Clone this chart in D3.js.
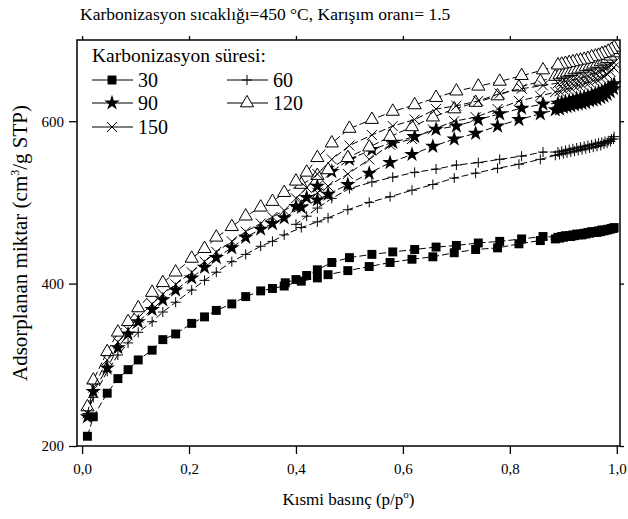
<!DOCTYPE html>
<html>
<head>
<meta charset="utf-8">
<script src="https://cdn.jsdelivr.net/npm/d3@7"></script>
<style>
  body { margin: 0; background: #fff; }
</style>
</head>
<body>
<div id="chart"></div>
<script>
// pressure points (p/p0) of the adsorption and desorption runs
const adsP = [0.010, 0.021, 0.047, 0.067, 0.086, 0.105, 0.131, 0.151, 0.175, 0.205, 0.229, 0.251, 0.28, 0.306, 0.334, 0.356, 0.378, 0.41, 0.44, 0.46, 0.497, 0.537, 0.576, 0.617, 0.656, 0.696, 0.736, 0.777, 0.817, 0.857, 0.885, 0.893, 0.90, 0.907, 0.914, 0.921, 0.928, 0.935, 0.942, 0.949, 0.956, 0.963, 0.97, 0.976, 0.982, 0.988, 0.994];
const desP = [0.995, 0.99, 0.984, 0.978, 0.972, 0.966, 0.96, 0.953, 0.946, 0.939, 0.932, 0.925, 0.918, 0.911, 0.904, 0.897, 0.89, 0.862, 0.822, 0.781, 0.741, 0.70, 0.662, 0.622, 0.581, 0.542, 0.50, 0.467, 0.44, 0.42, 0.40, 0.38];

// adsorbed amounts (cm3/g STP)
const ads30 = [212, 236, 265, 283, 294, 306, 318, 331, 338, 351, 359, 367, 375, 384, 391, 394, 397, 403, 407, 411, 416, 421, 426, 430, 433, 438, 442, 444, 449, 453, 455, 456, 457, 458, 458, 459, 460, 460, 461, 462, 463, 463, 464, 465, 466, 467, 468];
const des30 = [469, 468, 467, 466, 466, 465, 464, 464, 463, 462, 461, 461, 460, 459, 459, 458, 457, 458, 455, 452, 450, 447, 445, 442, 439, 436, 432, 426, 417, 410, 405, 401];

const ads60 = [240, 260, 292, 312, 327, 340, 353, 365, 377, 392, 404, 414, 427, 436, 446, 452, 460, 469, 476, 481, 491, 500, 507, 515, 522, 530, 536, 542, 547, 553, 558, 559, 560, 561, 562, 563, 564, 565, 566, 567, 568, 569, 570, 572, 573, 575, 578];
const des60 = [581, 578, 576, 575, 574, 573, 572, 571, 570, 569, 568, 567, 566, 565, 564, 563, 562, 562, 557, 553, 549, 546, 541, 537, 531, 525, 517, 505, 493, 483, 473];

const ads90 = [236, 267, 296, 321, 338, 353, 368, 380, 392, 407, 420, 432, 444, 457, 467, 474, 481, 494, 503, 510, 522, 536, 549, 559, 569, 578, 585, 594, 602, 609, 614, 615, 617, 618, 619, 620, 621, 622, 623, 625, 626, 627, 629, 631, 633, 636, 640];
const des90 = [646, 643, 641, 639, 637, 636, 634, 633, 631, 630, 629, 628, 626, 625, 624, 623, 622, 621, 616, 609, 602, 594, 590, 581, 574, 565, 553, 538, 520, 506, 495];

const ads120 = [248, 281, 316, 340, 353, 370, 389, 401, 414, 431, 443, 457, 470, 483, 494, 501, 512, 522, 533, 540, 555, 568, 581, 593, 605, 615, 623, 631, 642, 649, 655, 657, 658, 660, 661, 663, 664, 665, 667, 668, 670, 671, 673, 675, 677, 680, 684];
const des120 = [691, 688, 686, 684, 683, 681, 680, 679, 677, 676, 675, 674, 673, 672, 671, 670, 669, 663, 656, 649, 643, 637, 629, 620, 612, 602, 591, 573, 555, 537, 526];

const ads150 = [240, 272, 306, 328, 343, 358, 375, 387, 399, 414, 427, 439, 452, 464, 474, 482, 490, 501, 512, 520, 535, 553, 571, 578, 590, 600, 605, 615, 625, 631, 636, 637, 639, 640, 641, 643, 644, 645, 647, 648, 650, 651, 653, 655, 658, 661, 666];
const des150 = [672, 669, 667, 665, 663, 661, 659, 658, 656, 655, 653, 652, 651, 650, 649, 648, 647, 644, 640, 634, 625, 619, 615, 602, 594, 583, 570, 553, 535, 518, 505];

const seriesNames = ["30", "60", "90", "120", "150"];
const xTicks = [0, 0.2, 0.4, 0.6, 0.8, 1.0];
const yTicks = [200, 400, 600];

const series = [
  { name: "30", ads: ads30, des: des30, symbol: "square" },
  { name: "60", ads: ads60, des: des60, symbol: "plus" },
  { name: "90", ads: ads90, des: des90, symbol: "star" },
  { name: "120", ads: ads120, des: des120, symbol: "triangle" },
  { name: "150", ads: ads150, des: des150, symbol: "cross" }
];

const FONT = "'Liberation Serif', 'Times New Roman', Times, 'DejaVu Serif', serif";

const width = 628, height = 519;
const margin = { top: 40, right: 8, bottom: 73, left: 77 };
const innerW = width - margin.left - margin.right;
const innerH = height - margin.top - margin.bottom;

const svg = d3.select("#chart").append("svg")
  .attr("width", width)
  .attr("height", height)
  .attr("font-family", FONT);

const g = svg.append("g")
  .attr("transform", "translate(" + margin.left + "," + margin.top + ")");

const x = d3.scaleLinear().domain([-0.0095, 1.006]).range([0, innerW]);
const y = d3.scaleLinear().domain([200, 700]).range([innerH, 0]);

const fmt = d => d3.format(".1f")(d).replace(".", ",");

// axes
const xAxis = g.append("g")
  .attr("transform", "translate(0," + innerH + ")")
  .call(d3.axisBottom(x).tickValues(xTicks).tickFormat(fmt).tickSize(8).tickSizeOuter(0));
const yAxis = g.append("g")
  .call(d3.axisLeft(y).tickValues(yTicks).tickFormat(d3.format("d")).tickSize(8).tickSizeOuter(0));
const xTop = g.append("g")
  .call(d3.axisTop(x).tickValues(xTicks).tickFormat("").tickSize(4).tickSizeOuter(0));
const yRight = g.append("g")
  .attr("transform", "translate(" + innerW + ",0)")
  .call(d3.axisRight(y).tickValues(yTicks).tickFormat("").tickSize(4).tickSizeOuter(0));

[xAxis, yAxis, xTop, yRight].forEach(a => {
  a.attr("font-family", FONT);
  a.select(".domain").remove();
  a.selectAll("line").attr("stroke", "#000").attr("stroke-width", 1.3);
  a.selectAll("text")
    .style("font-family", FONT)
    .style("font-size", "15px")
    .attr("fill", "#000");
});
xAxis.selectAll("text").attr("dy", "1.1em");
yAxis.selectAll("text").attr("x", -13);

// frame
g.append("rect")
  .attr("width", innerW)
  .attr("height", innerH)
  .attr("fill", "none")
  .attr("stroke", "#000")
  .attr("stroke-width", 1.5);

// marker shapes
function markerPath(type) {
  if (type === "square") return d3.symbol(d3.symbolSquare, 80)();
  if (type === "star") return d3.symbol(d3.symbolStar, 75)();
  if (type === "triangle") return d3.symbol(d3.symbolTriangle, 75)();
  if (type === "plus") return "M-5,0H5M0,-5V5";
  return "M-5,-5L5,5M-5,5L5,-5";
}
function styleMarker(sel, type) {
  if (type === "square" || type === "star") {
    sel.attr("fill", "#000").attr("stroke", "none");
  } else if (type === "triangle") {
    sel.attr("fill", "#fff").attr("stroke", "#000").attr("stroke-width", 1);
  } else {
    sel.attr("fill", "none").attr("stroke", "#000").attr("stroke-width", 1);
  }
}

const line = d3.line().x(d => x(d[0])).y(d => y(d[1]));

const plot = g.append("g");
series.forEach(s => {
  const adsPts = s.ads.map((v, i) => [adsP[i], v]);
  const desPts = s.des.map((v, i) => [desP[i], v]);
  [adsPts, desPts].forEach(pts => {
    plot.append("path")
      .datum(pts)
      .attr("fill", "none")
      .attr("stroke", "#000")
      .attr("stroke-width", 1)
      .attr("stroke-dasharray", "7,3")
      .attr("d", line);
  });
  plot.selectAll(null)
    .data(adsPts.concat(desPts))
    .enter().append("path")
    .attr("d", markerPath(s.symbol))
    .attr("transform", d => "translate(" + x(d[0]) + "," + y(d[1]) + ")")
    .call(styleMarker, s.symbol);
});

function addText(parent) {
  return parent.append("text")
    .style("font-family", FONT)
    .attr("fill", "#000");
}

// legend
const legend = svg.append("g");
addText(legend)
  .attr("x", 92)
  .attr("y", 62)
  .style("font-size", "19.5px")
  .text("Karbonizasyon süresi:");
const legendPos = [[92, 80], [227, 80], [92, 103], [227, 103], [92, 127]];
series.forEach((s, i) => {
  const [lx, ly] = legendPos[i];
  legend.append("line")
    .attr("x1", lx).attr("x2", lx + 41)
    .attr("y1", ly).attr("y2", ly)
    .attr("stroke", "#000").attr("stroke-width", 1);
  legend.append("path")
    .attr("d", markerPath(s.symbol))
    .attr("transform", "translate(" + (lx + 20) + "," + ly + ")")
    .call(styleMarker, s.symbol);
  addText(legend)
    .attr("x", lx + 46)
    .attr("y", ly + 7)
    .style("font-size", "20px")
    .text(seriesNames[i]);
});

// titles
addText(svg)
  .attr("x", 80)
  .attr("y", 20)
  .style("font-size", "17.5px")
  .text("Karbonizasyon sıcaklığı=450 °C, Karışım oranı= 1.5");

addText(svg)
  .attr("x", margin.left + innerW / 2)
  .attr("y", 505)
  .attr("text-anchor", "middle")
  .style("font-size", "17px")
  .html("Kısmi basınç (p/p<tspan dy='-7' font-size='11px'>o</tspan><tspan dy='7'>)</tspan>");

addText(svg)
  .attr("transform", "translate(27," + (margin.top + innerH / 2) + ") rotate(-90)")
  .attr("text-anchor", "middle")
  .style("font-size", "21px")
  .html("Adsorplanan miktar (cm<tspan dy='-8' font-size='12px'>3</tspan><tspan dy='8'>/g STP)</tspan>");
</script>
</body>
</html>
